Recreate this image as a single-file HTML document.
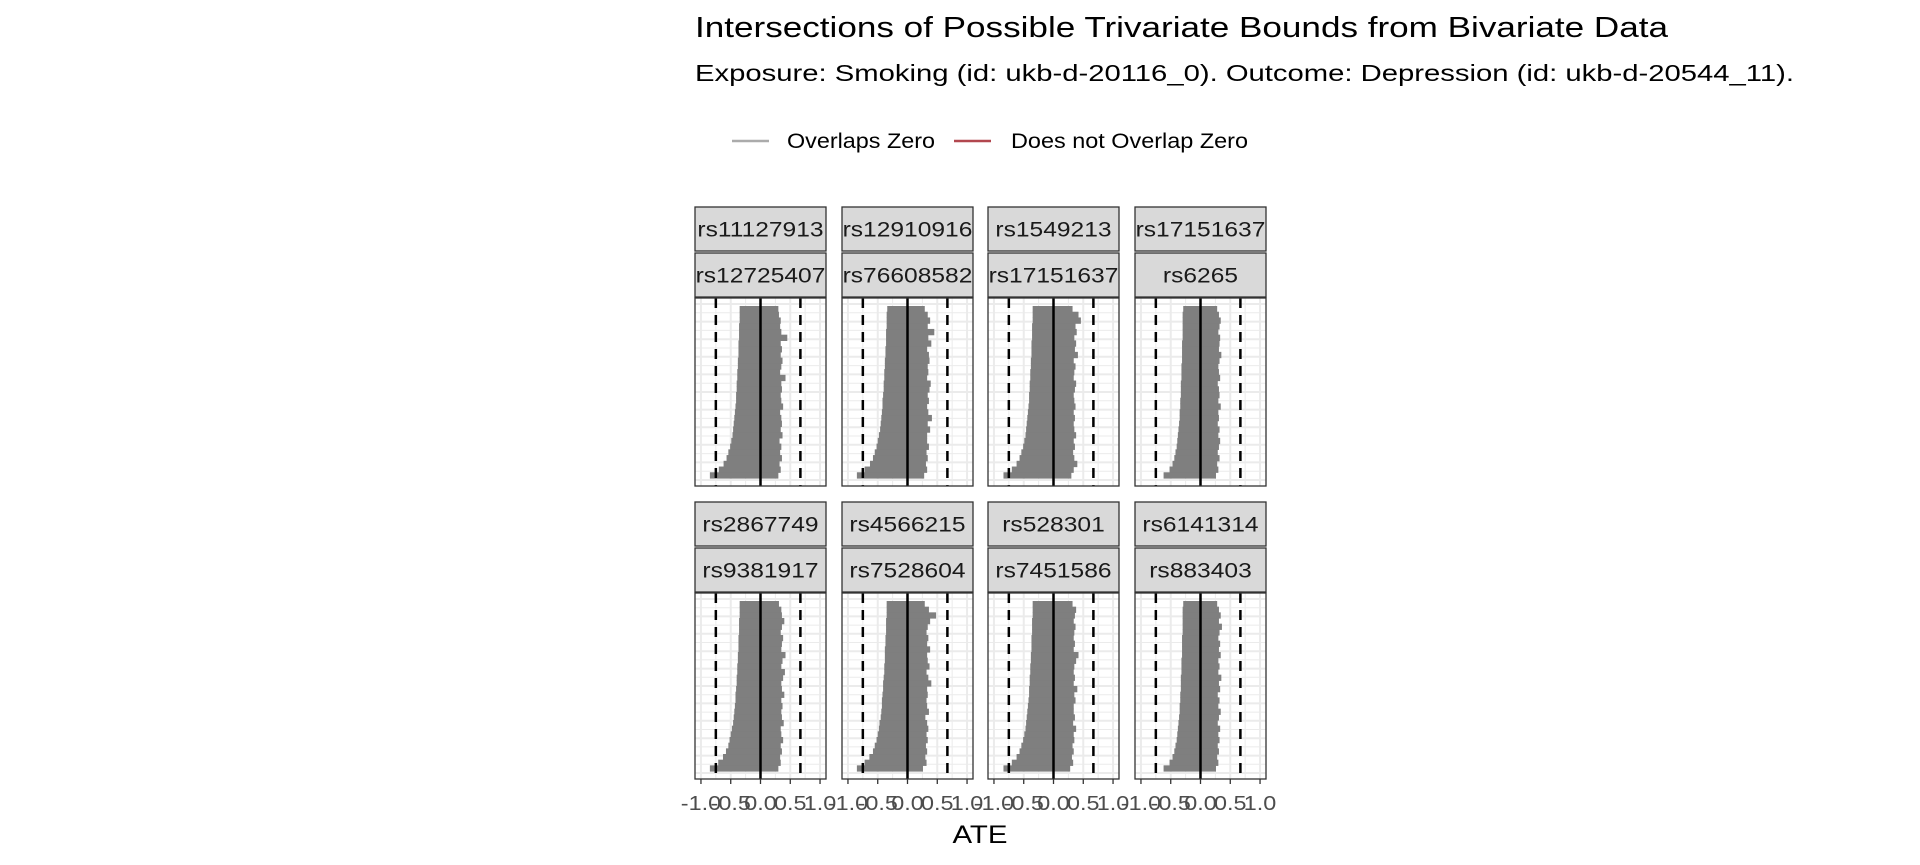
<!DOCTYPE html>
<html><head><meta charset="utf-8"><style>
html,body{margin:0;padding:0;background:#fff;}
svg{display:block;font-family:"Liberation Sans",sans-serif;}
</style></head><body>
<svg id="chart" width="1920" height="865" viewBox="0 0 1920 865">
<text x="695" y="37" font-size="28.5" fill="#000" textLength="973" lengthAdjust="spacingAndGlyphs">Intersections of Possible Trivariate Bounds from Bivariate Data</text>
<text x="695" y="81" font-size="23.5" fill="#000" textLength="1099" lengthAdjust="spacingAndGlyphs">Exposure: Smoking (id: ukb-d-20116_0). Outcome: Depression (id: ukb-d-20544_11).</text>
<g>
<g>
<line x1="732" y1="141" x2="769" y2="141" stroke="#ababab" stroke-width="2.5"/>
<text x="787" y="148" font-size="21" fill="#000" textLength="148" lengthAdjust="spacingAndGlyphs">Overlaps Zero</text></g>
<g>
<line x1="954" y1="141" x2="991" y2="141" stroke="#b2474f" stroke-width="2.5"/>
<text x="1011" y="148" font-size="21" fill="#000" textLength="237" lengthAdjust="spacingAndGlyphs">Does not Overlap Zero</text></g>
</g>
<g id="panels"></g>
<text x="980" y="843" font-size="25" text-anchor="middle" fill="#000" textLength="55" lengthAdjust="spacingAndGlyphs">ATE</text>
</svg>
<script>
const stripTop = ["rs11127913","rs12910916","rs1549213","rs17151637","rs2867749","rs4566215","rs528301","rs6141314"];
const stripBottom = ["rs12725407","rs76608582","rs17151637","rs6265","rs9381917","rs7528604","rs7451586","rs883403"];
const xTicks = [-1,-0.5,0,0.5,1];
const xTickLabels = ["-1.0","-0.5","0.0","0.5","1.0"];
const dashLower = -0.75;
const dashUpper = 0.67;
const lower1 = [-0.85,-0.7,-0.62,-0.57,-0.54,-0.51,-0.49,-0.47,-0.46,-0.45,-0.44,-0.43,-0.42,-0.41,-0.41,-0.4,-0.4,-0.39,-0.39,-0.38,-0.38,-0.37,-0.37,-0.37,-0.36,-0.36,-0.36,-0.35,-0.35,-0.35];
const upper1 = [0.3,0.34,0.32,0.36,0.33,0.35,0.32,0.37,0.34,0.36,0.35,0.33,0.38,0.35,0.34,0.36,0.35,0.42,0.33,0.35,0.37,0.34,0.36,0.34,0.45,0.35,0.33,0.34,0.31,0.3];
const lower2 = [-0.85,-0.72,-0.63,-0.58,-0.55,-0.52,-0.5,-0.48,-0.46,-0.45,-0.44,-0.43,-0.42,-0.42,-0.41,-0.4,-0.4,-0.39,-0.39,-0.38,-0.38,-0.37,-0.37,-0.36,-0.36,-0.36,-0.35,-0.35,-0.35,-0.34];
const upper2 = [0.28,0.33,0.31,0.34,0.32,0.36,0.33,0.33,0.38,0.34,0.41,0.35,0.33,0.36,0.34,0.37,0.39,0.33,0.35,0.34,0.37,0.36,0.33,0.4,0.35,0.45,0.34,0.38,0.34,0.29];
const lower3 = [-0.84,-0.7,-0.62,-0.57,-0.54,-0.51,-0.49,-0.47,-0.46,-0.45,-0.44,-0.43,-0.42,-0.41,-0.41,-0.4,-0.4,-0.39,-0.39,-0.38,-0.38,-0.37,-0.37,-0.37,-0.36,-0.36,-0.36,-0.35,-0.35,-0.35];
const upper3 = [0.3,0.34,0.4,0.35,0.33,0.36,0.34,0.38,0.35,0.34,0.36,0.34,0.37,0.35,0.34,0.36,0.38,0.34,0.35,0.37,0.34,0.41,0.36,0.38,0.35,0.39,0.37,0.46,0.42,0.32];
const lower4 = [-0.62,-0.52,-0.47,-0.44,-0.42,-0.4,-0.39,-0.38,-0.37,-0.36,-0.35,-0.35,-0.34,-0.34,-0.33,-0.33,-0.33,-0.32,-0.32,-0.32,-0.31,-0.31,-0.31,-0.31,-0.3,-0.3,-0.3,-0.3,-0.3,-0.29];
const upper4 = [0.26,0.3,0.28,0.32,0.29,0.31,0.33,0.3,0.32,0.29,0.31,0.3,0.34,0.3,0.32,0.31,0.29,0.33,0.31,0.3,0.32,0.35,0.31,0.32,0.33,0.3,0.32,0.34,0.31,0.28];
const lower5 = [-0.85,-0.71,-0.63,-0.58,-0.54,-0.52,-0.5,-0.48,-0.46,-0.45,-0.44,-0.43,-0.42,-0.42,-0.41,-0.4,-0.4,-0.39,-0.39,-0.38,-0.38,-0.37,-0.37,-0.37,-0.36,-0.36,-0.36,-0.35,-0.35,-0.35];
const upper5 = [0.3,0.34,0.33,0.36,0.34,0.38,0.35,0.34,0.39,0.36,0.35,0.37,0.35,0.4,0.36,0.35,0.38,0.41,0.35,0.37,0.42,0.35,0.36,0.38,0.34,0.36,0.4,0.36,0.35,0.31];
const lower6 = [-0.85,-0.72,-0.64,-0.58,-0.55,-0.52,-0.5,-0.48,-0.47,-0.45,-0.44,-0.43,-0.43,-0.42,-0.41,-0.41,-0.4,-0.39,-0.39,-0.38,-0.38,-0.38,-0.37,-0.37,-0.36,-0.36,-0.36,-0.35,-0.35,-0.35];
const upper6 = [0.26,0.32,0.3,0.33,0.31,0.34,0.32,0.35,0.33,0.3,0.36,0.33,0.32,0.34,0.33,0.4,0.35,0.32,0.37,0.34,0.33,0.38,0.33,0.35,0.32,0.34,0.38,0.48,0.36,0.29];
const lower7 = [-0.84,-0.7,-0.62,-0.57,-0.54,-0.51,-0.49,-0.47,-0.46,-0.45,-0.44,-0.43,-0.42,-0.41,-0.41,-0.4,-0.4,-0.39,-0.39,-0.38,-0.38,-0.37,-0.37,-0.37,-0.36,-0.36,-0.36,-0.35,-0.35,-0.35];
const upper7 = [0.28,0.33,0.31,0.34,0.32,0.35,0.34,0.38,0.33,0.36,0.34,0.34,0.37,0.35,0.4,0.34,0.36,0.34,0.35,0.38,0.42,0.34,0.36,0.34,0.35,0.37,0.34,0.36,0.38,0.32];
const lower8 = [-0.62,-0.52,-0.47,-0.44,-0.42,-0.4,-0.39,-0.38,-0.37,-0.36,-0.35,-0.35,-0.34,-0.34,-0.33,-0.33,-0.33,-0.32,-0.32,-0.32,-0.31,-0.31,-0.31,-0.31,-0.3,-0.3,-0.3,-0.3,-0.3,-0.29];
const upper8 = [0.26,0.3,0.28,0.31,0.29,0.32,0.3,0.33,0.29,0.31,0.34,0.3,0.32,0.29,0.33,0.31,0.35,0.3,0.32,0.3,0.34,0.31,0.33,0.3,0.32,0.36,0.31,0.34,0.31,0.28];
const lowers = [lower1,lower2,lower3,lower4,lower5,lower6,lower7,lower8];
const uppers = [upper1,upper2,upper3,upper4,upper5,upper6,upper7,upper8];

const NS = "http://www.w3.org/2000/svg";
const root = document.getElementById("panels");
const colX = [695,842,988,1135];
const rows = [{s1:207,s2:253,p:298,pb:486},{s1:502,s2:548,p:593,pb:779}];
const PW = 131, SH = 45;
const WIDEN = 1.17;
function mk(tag, attrs, parent){const e=document.createElementNS(NS,tag);for(const k in attrs)e.setAttribute(k,attrs[k]);parent.appendChild(e);return e;}
function widen(t){const w=t.getComputedTextLength();t.setAttribute('textLength',(w*WIDEN).toFixed(1));t.setAttribute('lengthAdjust','spacingAndGlyphs');}
for(let i=0;i<8;i++){
  const c=i%4, r=Math.floor(i/4);
  const x0=colX[c], R=rows[r];
  const xs = v => x0 + (v+1.1)/2.2*PW;
  const g = mk("g",{},root);
  
  
  [[R.s1,stripTop[i]],[R.s2,stripBottom[i]]].forEach(([y,lab])=>{
    const sg = mk("g",{},g);
    
    
    mk("rect",{x:x0,y:y,width:PW,height:SH-1,fill:"#d9d9d9",stroke:"#333",'stroke-width':1.3},sg);
    const t = mk("text",{x:x0+PW/2,y:y+SH/2+7,'font-size':21,'text-anchor':'middle',fill:'#1a1a1a'},sg);
    t.textContent = lab;
    widen(t);
  });
  const top=R.p, bot=R.pb, H=bot-top;
  mk("rect",{x:x0,y:top,width:PW,height:H,fill:"#fff"},g);
  for(let v=-1;v<=1.001;v+=0.25){
    const major = Math.abs(v*2-Math.round(v*2))<1e-6;
    mk("line",{x1:xs(v),x2:xs(v),y1:top,y2:bot,stroke:"#ebebeb",'stroke-width':major?2:1},g);
  }
  for(let k=0;k<=20;k++){
    const y=top+6+k*(H-12)/20;
    mk("line",{x1:x0,x2:x0+PW,y1:y,y2:y,stroke:"#ebebeb",'stroke-width':k%2==0?2:1},g);
  }
  const lo=lowers[i], hi=uppers[i], n=lo.length;
  const dTop=top+8, dBot=bot-8, rh=(dBot-dTop)/n;
  for(let k=0;k<n;k++){
    const y = dBot-(k+1)*rh;
    const b = mk("rect",{x:xs(lo[k]),y:y,width:xs(hi[k])-xs(lo[k]),height:rh+0.6,fill:"#7f7f7f"},g);
    
    
  }
  const d1 = mk("line",{x1:xs(dashLower),x2:xs(dashLower),y1:top,y2:bot,stroke:"#000",'stroke-width':2.5,'stroke-dasharray':'10,7'},g);
  
  
  const d2 = mk("line",{x1:xs(dashUpper),x2:xs(dashUpper),y1:top,y2:bot,stroke:"#000",'stroke-width':2.5,'stroke-dasharray':'10,7'},g);
  
  
  const z = mk("line",{x1:xs(0),x2:xs(0),y1:top,y2:bot,stroke:"#000",'stroke-width':2.5},g);
  
  
  mk("rect",{x:x0,y:top,width:PW,height:H,fill:"none",stroke:"#333",'stroke-width':1.3},g);
  if(r===1){
    xTicks.forEach((v,j)=>{
      mk("line",{x1:xs(v),x2:xs(v),y1:bot,y2:bot+5,stroke:"#333",'stroke-width':1.3},g);
      const t = mk("text",{x:xs(v),y:bot+31,'font-size':20,'text-anchor':'middle',fill:'#4d4d4d'},g);
      
      
      t.textContent = xTickLabels[j];
      widen(t);
    });
  }
}
</script>
</body></html>
